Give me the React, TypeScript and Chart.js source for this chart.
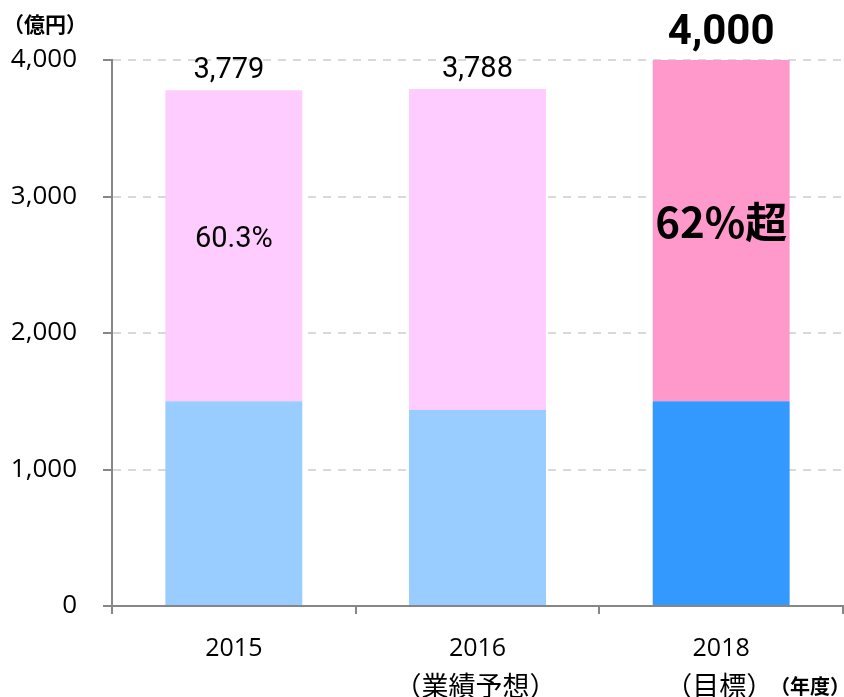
import React, { useEffect, useRef } from 'react';
import { Chart, registerables } from 'chart.js';

Chart.register(...registerables);

const years: string[] = ['2015', '2016', '2018'];
const subLabels: string[] = ['', '（業績予想）', '（目標）'];
const baseValues: number[] = [1500, 1436, 1500];
const upperValues: number[] = [2279, 2352, 2500];
const totalLabels: string[] = ['3,779', '3,788', '4,000'];
const shareLabels: string[] = ['60.3%', '', '62%超'];
const yTicks: number[] = [0, 1000, 2000, 3000, 4000];
const unitLabel = '（億円）';
const xUnitLabel = '（年度）';

const baseColors = ['#99CCFF', '#99CCFF', '#3399FF'];
const upperColors = ['#FFCCFF', '#FFCCFF', '#FF99CC'];

const AXIS = '#868686';
const GRID = '#D9D9D9';
const CJK = "'Noto Sans CJK JP', sans-serif";

const labelPlugin = {
  id: 'labelPlugin',
  afterDatasetsDraw(chart: any) {
    const ctx = chart.ctx as CanvasRenderingContext2D;
    const meta = chart.getDatasetMeta(1);
    const baseMeta = chart.getDatasetMeta(0);
    const xScale = chart.scales.x;
    ctx.save();
    ctx.fillStyle = '#000';
    ctx.textAlign = 'center';
    ctx.textBaseline = 'middle';
    meta.data.forEach((bar: any, i: number) => {
      const last = i === meta.data.length - 1;
      if (last) {
        ctx.font = "bold 42px Roboto, sans-serif";
        ctx.fillText(totalLabels[i], bar.x, bar.y - 27);
      } else {
        ctx.font = "29px Roboto, sans-serif";
        ctx.fillText(totalLabels[i], bar.x - (i === 0 ? 5 : 0), bar.y - 19);
      }
      const s = shareLabels[i];
      if (s) {
        const mid = (bar.y + baseMeta.data[i].y) / 2;
        if (last) {
          ctx.font = "bold 42px " + CJK;
          ctx.fillText(s, bar.x, mid - 9);
        } else {
          ctx.font = "29px Roboto, sans-serif";
          ctx.fillText(s, bar.x, mid - 6);
        }
      }
    });
    ctx.font = "27px " + CJK;
    subLabels.forEach((t, i) => {
      if (t) ctx.fillText(t, xScale.getPixelForValue(i) - 2, 686);
    });
    ctx.font = "bold 21px " + CJK;
    ctx.textAlign = 'left';
    ctx.fillText(unitLabel, 3, 24);
    ctx.font = "bold 20px " + CJK;
    ctx.textAlign = 'right';
    ctx.fillText(xUnitLabel, 850, 686);
    ctx.restore();
  },
};

export default function App() {
  const ref = useRef<HTMLCanvasElement | null>(null);
  useEffect(() => {
    if (!ref.current) return;
    const chart = new Chart(ref.current, {
      type: 'bar',
      data: {
        labels: years,
        datasets: [
          { data: baseValues, backgroundColor: baseColors, borderWidth: 0 },
          { data: upperValues, backgroundColor: upperColors, borderWidth: 0 },
        ],
      },
      options: {
        animation: false,
        responsive: true,
        maintainAspectRatio: false,
        layout: { padding: { top: 60, right: 1, left: 0, bottom: 0 } },
        plugins: { legend: { display: false }, tooltip: { enabled: false } },
        datasets: { bar: { barPercentage: 0.562, categoryPercentage: 1 } },
        scales: {
          x: {
            stacked: true,
            grid: {
              offset: true,
              drawOnChartArea: false,
              drawTicks: true,
              tickLength: 8,
              tickColor: AXIS,
              tickWidth: 2,
              color: AXIS,
              lineWidth: 2,
            },
            border: { display: true, color: AXIS, width: 2 },
            ticks: {
              color: '#000',
              padding: 15,
              maxRotation: 0,
              autoSkip: false,
              font: { family: "'Open Sans', sans-serif", size: 25, lineHeight: '39px' as any },
            },
            afterFit(scale: any) { scale.height = 91; },
          },
          y: {
            stacked: true,
            min: 0,
            max: 4000,
            afterBuildTicks(scale: any) { scale.ticks = yTicks.map((v) => ({ value: v })); },
            grid: {
              color: (c: any) => (c.tick && c.tick.value === 0 ? 'rgba(0,0,0,0)' : GRID),
              lineWidth: 2,
              tickLength: 9,
              tickColor: AXIS,
              tickWidth: 2,
              tickBorderDash: [],
            },
            border: { display: true, color: AXIS, width: 2, dash: [8, 7] },
            ticks: {
              color: '#000',
              padding: 26,
              font: { family: "'Open Sans', sans-serif", size: 26 },
              callback: (v: any) => Number(v).toLocaleString('en-US'),
            },
            afterFit(scale: any) { scale.width = 112; },
          },
        },
      },
      plugins: [labelPlugin],
    });
    return () => chart.destroy();
  }, []);
  return (
    <div style={{ position: 'fixed', left: 0, top: 0, width: 844, height: 697, background: '#fff' }}>
      <canvas ref={ref} />
    </div>
  );
}
